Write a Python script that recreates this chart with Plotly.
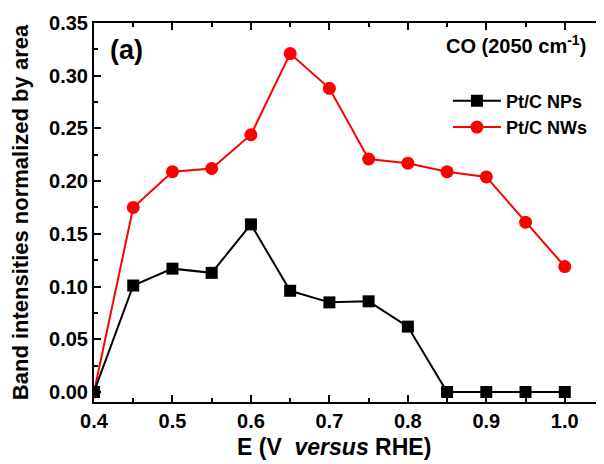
import plotly.graph_objects as go

potential = [0.40, 0.45, 0.50, 0.55, 0.60, 0.65, 0.70, 0.75, 0.80, 0.85, 0.90, 0.95, 1.00]
nps = [0.000, 0.101, 0.117, 0.113, 0.159, 0.096, 0.085, 0.086, 0.062, 0.000, 0.000, 0.000, 0.000]
nws = [0.000, 0.175, 0.209, 0.212, 0.244, 0.321, 0.288, 0.221, 0.217, 0.209, 0.204, 0.161, 0.119]

FONT = "Liberation Sans, Arial, sans-serif"

fig = go.Figure()
fig.add_trace(go.Scatter(
    x=potential, y=nws, name="Pt/C NWs", mode="lines+markers",
    line=dict(color="#ff0000", width=2),
    marker=dict(symbol="circle", size=13, color="#ff0000"),
))
fig.add_trace(go.Scatter(
    x=potential, y=nps, name="Pt/C NPs", mode="lines+markers",
    line=dict(color="black", width=2),
    marker=dict(symbol="square", size=12, color="black"),
))

fig.update_layout(
    width=596, height=456,
    margin=dict(l=86, r=0, t=15, b=62, autoexpand=False),
    plot_bgcolor="white", paper_bgcolor="white",
    font=dict(family=FONT, size=18, color="black", weight="bold"),
    legend=dict(
        x=0.694, y=0.843, xanchor="left", yanchor="top",
        bgcolor="rgba(0,0,0,0)", font=dict(size=18, family=FONT, weight="bold"),
        traceorder="reversed", itemwidth=48, tracegroupgap=0,
    ),
    annotations=[
        dict(text="(a)", x=0.063, y=0.929, xref="paper", yref="paper",
             xanchor="center", yanchor="middle",
             showarrow=False, font=dict(size=27, family=FONT, weight="bold")),
        dict(text="CO (2050 cm<sup>-1</sup>)", x=0.969, y=0.942, xref="paper", yref="paper",
             xanchor="right", yanchor="middle",
             showarrow=False, font=dict(size=20, family=FONT, weight="bold")),
        dict(text="E (V  <i>versus</i> RHE)", x=0.47, y=-0.119, xref="paper", yref="paper",
             xanchor="center", yanchor="middle",
             showarrow=False, font=dict(size=23, family=FONT, weight="bold")),
    ],
)

fig.update_xaxes(
    range=[0.4, 1.05], tickvals=[0.4, 0.5, 0.6, 0.7, 0.8, 0.9, 1.0],
    ticktext=["0.4", "0.5", "0.6", "0.7", "0.8", "0.9", "1.0"],
    ticks="inside", ticklen=7, tickwidth=2, tickcolor="black",
    minor=dict(ticks="inside", ticklen=4, tickwidth=2, tickcolor="black", dtick=0.05, tick0=0.4),
    showline=True, linewidth=2, linecolor="black", mirror="ticks",
    showgrid=False, zeroline=False, automargin=False,
    tickfont=dict(size=20, family=FONT, weight="bold"),
)
fig.update_yaxes(
    range=[-0.0095, 0.35], tickvals=[0.0, 0.05, 0.10, 0.15, 0.20, 0.25, 0.30, 0.35],
    ticktext=["0.00", "0.05", "0.10", "0.15", "0.20", "0.25", "0.30", "0.35"],
    ticks="inside", ticklen=7, tickwidth=2, tickcolor="black",
    minor=dict(ticks="inside", ticklen=4, tickwidth=2, tickcolor="black", dtick=0.025, tick0=0),
    showline=True, linewidth=2, linecolor="black",
    showgrid=False, zeroline=False, automargin=False,
    tickfont=dict(size=20, family=FONT, weight="bold"),
    title=dict(text="Band intensities normalized by area", font=dict(size=22, family=FONT, weight="bold"), standoff=15),
)

fig.write_html("out.html")
